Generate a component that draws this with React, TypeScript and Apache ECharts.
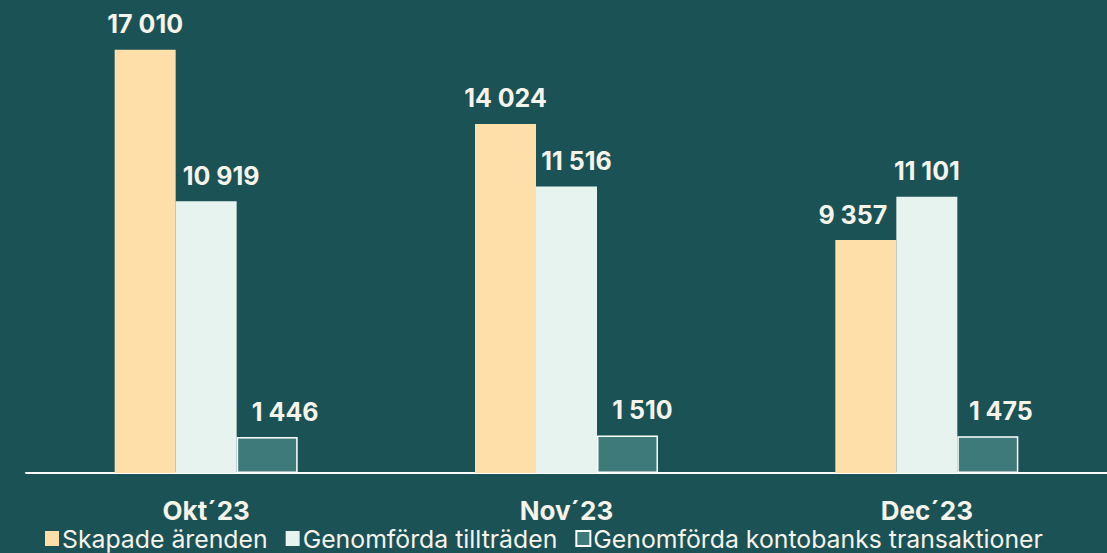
import React, { useEffect, useRef } from "react";
import * as echarts from "echarts";

const categories = ["Okt´23", "Nov´23", "Dec´23"];
const seriesNames = ["Skapade ärenden", "Genomförda tillträden", "Genomförda kontobanks transaktioner"];
const skapade = [17010, 14024, 9357];
const tilltraden = [10919, 11516, 11101];
const kontobank = [1446, 1510, 1475];

const BG = "#1b5256";
const TEXT = "#f6f3ea";
const labelOffsets = [
  [0, 0, -13],
  [15, 10, 0],
  [18, 15, 13],
];

const fmt = (v: number) => String(v).replace(/\B(?=(\d{3})+(?!\d))/g, " ");

export default function App() {
  const ref = useRef<HTMLDivElement>(null);
  useEffect(() => {
    if (!ref.current) return;
    const chart = echarts.init(ref.current, null, { renderer: "svg" });
    const values = [skapade, tilltraden, kontobank];
    const colors = ["#ffdfa9", "#e7f3ef", "#3e7a7a"];
    const series = values.map((vals, si) => ({
      name: seriesNames[si],
      type: "bar",
      barWidth: 61,
      barGap: "0%",
      itemStyle: {
        color: colors[si],
        borderColor: si === 2 ? "#ffffff" : undefined,
        borderWidth: si === 2 ? 1.5 : 0,
      },
      data: vals.map((v, i) => ({
        value: v,
        label: { offset: [labelOffsets[si][i], 0] },
      })),
      label: {
        show: true,
        position: "top",
        distance: 13,
        color: TEXT,
        fontFamily: "Inter",
        fontWeight: "bold",
        fontSize: 25,
        formatter: (p: any) => fmt(p.value),
      },
    }));
    chart.setOption({
      animation: false,
      backgroundColor: BG,
      grid: { left: 26, right: -2, top: 25, bottom: 80 },
      legend: {
        bottom: -3,
        left: 40,
        itemWidth: 14,
        itemHeight: 15,
        itemGap: 18,
        icon: "rect",
        textStyle: { color: TEXT, fontFamily: "Inter", fontSize: 24.8, padding: [0, 0, 0, -2] },
        data: seriesNames,
      },
      xAxis: {
        type: "category",
        data: categories,
        axisLine: { lineStyle: { color: "#ffffff", width: 2 } },
        axisTick: { show: false },
        axisLabel: {
          color: TEXT,
          fontFamily: "Inter",
          fontWeight: "bold",
          fontSize: 26,
          margin: 24,
        },
      },
      yAxis: {
        type: "value",
        min: 0,
        max: 18000,
        show: false,
        splitLine: { show: false },
      },
      series,
    });
    return () => chart.dispose();
  }, []);
  return <div ref={ref} style={{ position: "fixed", left: 0, top: 0, width: 1107, height: 553 }} />;
}
